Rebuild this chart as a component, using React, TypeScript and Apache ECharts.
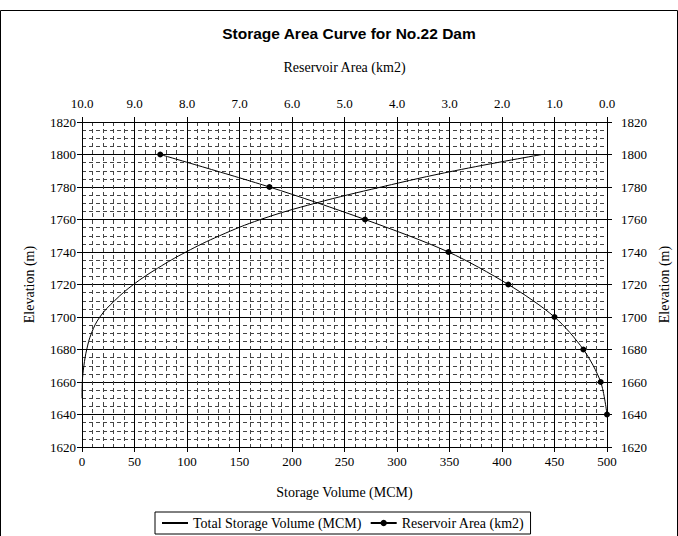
import React, { useEffect, useRef } from "react";
import * as echarts from "echarts";

// Storage volume curve (elevation m -> volume MCM)
const volElev = [1650, 1660, 1670, 1680, 1690, 1700, 1710, 1720, 1730, 1740, 1750, 1760, 1770, 1780, 1790, 1800];
const volume = [0, 0.3, 1.8, 4.5, 9, 17, 31, 49, 72, 99, 131, 170, 222, 285, 355, 438];

// Reservoir area (elevation m -> area km2)
const areaElev = [1800, 1780, 1760, 1740, 1720, 1700, 1680, 1660, 1640];
const area = [8.51, 6.43, 4.61, 3.02, 1.88, 1.0, 0.45, 0.12, 0.0];

const volTicks = { min: 0, max: 500, interval: 50 };
const areaTicks = { min: 0, max: 10, interval: 1 };
const elevTicks = { min: 1620, max: 1820, interval: 20 };

const SERIF = "'Liberation Serif', 'Times New Roman', serif";

export default function App() {
  const ref = useRef<HTMLDivElement>(null);
  useEffect(() => {
    document.body.style.margin = "0";
    const chart = echarts.init(ref.current!, null, { renderer: "svg" });
    const labelStyle = { color: "#000", fontFamily: SERIF, fontSize: 13 };
    const axisCommon = {
      axisLine: { show: true, lineStyle: { color: "#000", width: 1 } },
      axisTick: { show: true, inside: false, length: 5, lineStyle: { color: "#000" } },
      nameTextStyle: { color: "#000", fontFamily: SERIF, fontSize: 14 },
    };
    chart.setOption({
      animation: false,
      backgroundColor: "#fff",
      textStyle: { fontFamily: SERIF, color: "#000" },
      title: {
        text: "Storage Area Curve for No.22 Dam",
        left: 344,
        textAlign: "center",
        top: 20,
        textStyle: { fontFamily: "'Liberation Sans', Arial, sans-serif", fontWeight: "bold", fontSize: 15.5, color: "#000" },
      },
      graphic: [
        {
          type: "rect",
          shape: { x: 0.5, y: 10.5, width: 677, height: 540 },
          style: { fill: "none", stroke: "#000", lineWidth: 1 },
          silent: true,
        },
      ],
      grid: { left: 82, right: 71, top: 122, bottom: 89, outerBoundsMode: "none", containLabel: false },
      legend: {
        left: 155,
        top: 512,
        orient: "horizontal",
        borderColor: "#000",
        borderWidth: 1,
        padding: [4, 6],
        itemGap: 8,
        itemWidth: 26,
        itemHeight: 8,
        textStyle: { fontFamily: SERIF, fontSize: 14, color: "#000" },
        data: [
          { name: "Total Storage Volume (MCM)", itemStyle: { opacity: 0 } },
          { name: "Reservoir Area (km2)" },
        ],
      },
      xAxis: [
        {
          ...axisCommon,
          type: "value",
          position: "bottom",
          ...volTicks,
          name: "Storage Volume (MCM)",
          nameLocation: "middle",
          nameGap: 38,
          axisLabel: { ...labelStyle, margin: 8, formatter: (v: number) => String(v) },
          splitLine: { show: true, lineStyle: { color: "#000", width: 1 } },
          minorTick: { show: false, splitNumber: 5 },
          minorSplitLine: { show: true, lineStyle: { color: "#444", width: 1, type: [4, 3] } },
        },
        {
          ...axisCommon,
          type: "value",
          position: "top",
          ...areaTicks,
          inverse: true,
          name: "Reservoir Area (km2)",
          nameLocation: "middle",
          nameGap: 48,
          axisLabel: { ...labelStyle, margin: 12, formatter: (v: number) => v.toFixed(1) },
          splitLine: { show: false },
        },
      ],
      yAxis: [
        {
          ...axisCommon,
          type: "value",
          position: "left",
          ...elevTicks,
          name: "Elevation (m)",
          nameLocation: "middle",
          nameRotate: 90,
          nameGap: 46,
          axisLabel: { ...labelStyle, margin: 6, formatter: (v: number) => String(v) },
          splitLine: { show: true, lineStyle: { color: "#000", width: 1 } },
          minorTick: { show: false, splitNumber: 4 },
          minorSplitLine: { show: true, lineStyle: { color: "#444", width: 1, type: [4, 3] } },
        },
        {
          ...axisCommon,
          type: "value",
          position: "right",
          ...elevTicks,
          name: "Elevation (m)",
          nameLocation: "middle",
          nameRotate: 90,
          nameGap: 48,
          axisLabel: { ...labelStyle, margin: 14, formatter: (v: number) => String(v) },
          splitLine: { show: false },
        },
      ],
      series: [
        {
          name: "Total Storage Volume (MCM)",
          type: "line",
          xAxisIndex: 0,
          yAxisIndex: 0,
          data: volElev.map((e, i) => [volume[i], e]),
          symbol: "none",
          smooth: 0.4,
          lineStyle: { color: "#000", width: 1 },
          itemStyle: { color: "#000" },
          z: 5,
        },
        {
          name: "Reservoir Area (km2)",
          type: "line",
          xAxisIndex: 1,
          yAxisIndex: 0,
          data: areaElev.map((e, i) => [area[i], e]),
          symbol: "circle",
          symbolSize: 6,
          showSymbol: true,
          smooth: 0.3,
          lineStyle: { color: "#000", width: 1 },
          itemStyle: { color: "#000" },
          z: 5,
        },
      ],
    });
    return () => chart.dispose();
  }, []);
  return <div ref={ref} style={{ position: "fixed", left: 0, top: 0, width: 678, height: 536 }} />;
}
